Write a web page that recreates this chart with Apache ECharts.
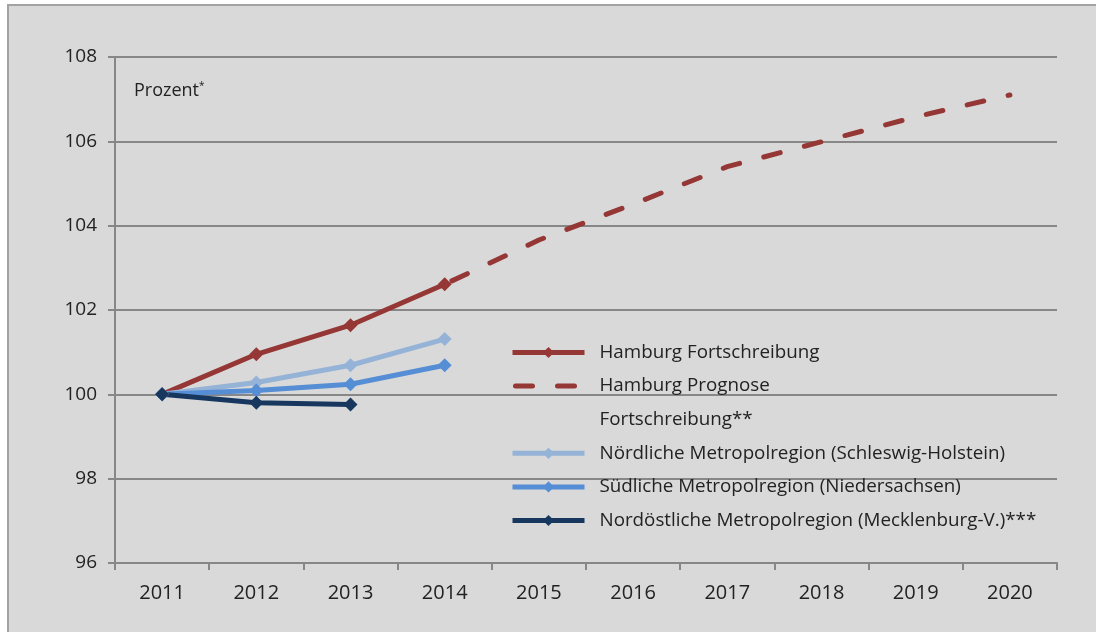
<!DOCTYPE html>
<html>
<head>
<meta charset="utf-8">
<script src="https://cdn.jsdelivr.net/npm/echarts@6/dist/echarts.min.js"></script>
<style>
  html, body { margin: 0; padding: 0; background: #fff; }
  #chart { width: 1096px; height: 632px; }
</style>
</head>
<body>
<div id="chart"></div>
<script>
const years = ['2011', '2012', '2013', '2014', '2015', '2016', '2017', '2018', '2019', '2020']
const hamburgFort = [100, 100.95, 101.64, 102.61, null, null, null, null, null, null]
const hamburgPrognose = [null, null, null, 102.61, 103.66, 104.51, 105.4, 105.99, 106.58, 107.1]
const nordMetro = [100, 100.28, 100.69, 101.31, null, null, null, null, null, null]
const suedMetro = [100, 100.09, 100.24, 100.69, null, null, null, null, null, null]
const nordostMetro = [100, 99.80, 99.76, null, null, null, null, null, null, null]

const font = '"Open Sans", sans-serif'
const textColor = '#222'
const axisGrey = '#878787'
const red = '#953735'

const chart = echarts.init(document.getElementById('chart'))

const solid = (name, data, color) => ({
  name,
  type: 'line',
  data,
  symbol: 'diamond',
  symbolSize: 14,
  showSymbol: true,
  lineStyle: { color, width: 5 },
  itemStyle: { color },
  emphasis: { disabled: true }
})

chart.setOption({
  backgroundColor: '#fff',
  animation: false,
  graphic: [
    {
      type: 'rect',
      z: -100,
      shape: { x: 8, y: 5, width: 1100, height: 640 },
      style: { fill: '#d9d9d9', stroke: '#a3a3a3', lineWidth: 2 }
    },
    {
      type: 'text',
      left: 134,
      top: 81,
      style: {
        text: '{a|Prozent}{s|*}',
        rich: {
          a: { fontFamily: font, fontSize: 18, fill: textColor },
          s: { fontFamily: font, fontSize: 10, fill: textColor, verticalAlign: 'top', padding: [0, 0, 10, 0] }
        }
      }
    }
  ],
  grid: { left: 115, right: 39, top: 57, bottom: 69 },
  legend: {
    orient: 'vertical',
    left: 510,
    top: 343,
    padding: 0,
    itemWidth: 72,
    itemHeight: 14,
    itemGap: 14.6,
    lineStyle: { width: 5 },
    textStyle: { fontFamily: font, fontSize: 18.8, color: textColor, padding: [0, 0, 0, 10] },
    data: [
      'Hamburg Fortschreibung',
      { name: 'Hamburg Prognose', itemStyle: { opacity: 0 }, lineStyle: { dashOffset: -3 } },
      'Fortschreibung**',
      'Nördliche Metropolregion (Schleswig-Holstein)',
      'Südliche Metropolregion (Niedersachsen)',
      'Nordöstliche Metropolregion (Mecklenburg-V.)***'
    ]
  },
  xAxis: {
    type: 'category',
    data: years,
    boundaryGap: true,
    axisLine: { lineStyle: { color: axisGrey, width: 2 } },
    axisTick: { show: true, length: 7, lineStyle: { color: axisGrey, width: 2 } },
    axisLabel: { margin: 20, fontFamily: font, fontSize: 20, color: textColor },
    splitLine: { show: false }
  },
  yAxis: {
    type: 'value',
    min: 96,
    max: 108,
    interval: 2,
    axisLine: { show: true, lineStyle: { color: axisGrey, width: 2 } },
    axisTick: { show: true, length: 7, lineStyle: { color: axisGrey, width: 2 } },
    axisLabel: { margin: 18, fontFamily: font, fontSize: 19, color: textColor },
    splitLine: { show: true, lineStyle: { color: axisGrey, width: 2 } }
  },
  series: [
    solid('Hamburg Fortschreibung', hamburgFort, red),
    {
      name: 'Hamburg Prognose',
      type: 'line',
      data: hamburgPrognose,
      symbol: 'none',
      lineStyle: { color: red, width: 5, type: [17, 25], dashOffset: -8, cap: 'round' },
      itemStyle: { color: red },
      emphasis: { disabled: true }
    },
    {
      name: 'Fortschreibung**',
      type: 'line',
      data: [],
      symbol: 'none',
      lineStyle: { color: 'rgba(0,0,0,0)', width: 0 },
      itemStyle: { color: 'rgba(0,0,0,0)' }
    },
    solid('Nördliche Metropolregion (Schleswig-Holstein)', nordMetro, '#95b3d7'),
    solid('Südliche Metropolregion (Niedersachsen)', suedMetro, '#558ed5'),
    solid('Nordöstliche Metropolregion (Mecklenburg-V.)***', nordostMetro, '#17375e')
  ]
})
</script>
</body>
</html>
